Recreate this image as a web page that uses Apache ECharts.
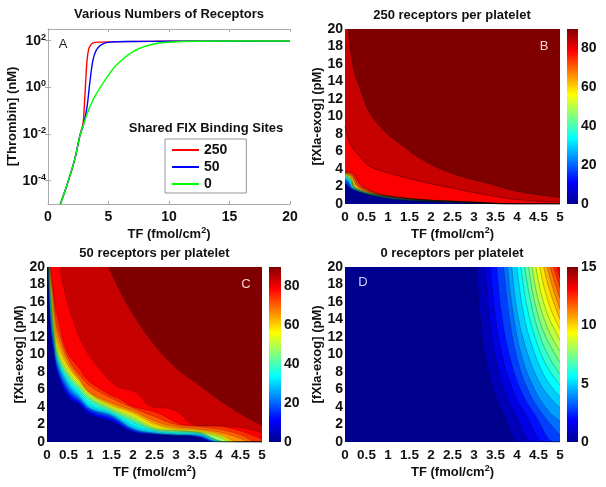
<!DOCTYPE html>
<html>
<head>
<meta charset="utf-8">
<style>html,body{margin:0;padding:0;background:#fff}#chart{width:606px;height:487px}</style>
<script src="https://cdn.jsdelivr.net/npm/echarts@6/dist/echarts.min.js"></script>
</head>
<body>
<div id="chart"></div>
<script>
// panel A: [TF, thrombin nM]
var thrombin250 = [[1.02,1e-5],[1.52,5.5e-5],[2.2,7.8e-4],[2.62,7.9e-3],[2.9,0.029],[3.0,0.15],[3.12,2.0],[3.23,15],[3.35,40],[3.45,55],[3.72,81],[4.28,87],[6,91],[10,94],[20,96]];
var thrombin50 = [[1.02,1e-5],[1.52,5.5e-5],[2.2,7.8e-4],[2.62,7.9e-3],[2.95,0.027],[3.23,0.15],[3.45,1.5],[3.72,15],[4,40],[4.41,68],[5.1,87],[7,92],[10,94],[20,96]];
var thrombin0 = [[1.02,1e-5],[1.52,5.5e-5],[2.2,7.8e-4],[2.62,7.9e-3],[2.95,0.027],[3.3,0.09],[3.86,0.4],[4.83,2.5],[5.66,9],[7.03,34],[8.4,65],[9.8,85],[12.55,95],[20,97]];
var ticksThrombin = [1e-4,1e-2,1,100];

// panels B, C, D: filled contours, value level and its [TF, fXIa] boundary
var levelsB = [4.5,18,27,36,45,54,63,72,76.5,81,85.5];
var contoursB = [
  [[0,2.4],[.1,1.9],[.2,1.62],[.43,1.2],[.74,.85],[1.12,.55],[1.5,.4],[2,.27],[2.5,.17],[3,.09],[3.84,0],[5,0]],
  [[0,2.7],[.07,2.45],[.13,1.95],[.2,1.67],[.43,1.25],[.74,.9],[1.12,.6],[1.5,.44],[2,.3],[2.5,.2],[3,.11],[3.85,0],[5,0]],
  [[0,2.95],[.08,2.7],[.13,2.2],[.18,1.85],[.43,1.3],[.74,.95],[1.12,.65],[1.5,.47],[2,.33],[2.5,.22],[3,.13],[3.86,0],[5,0]],
  [[0,3.1],[.09,2.9],[.15,2.4],[.2,1.9],[.43,1.35],[.74,1],[1.12,.7],[1.5,.5],[2,.36],[2.5,.24],[3,.15],[3.87,0],[5,0]],
  [[0,3.25],[.1,3.05],[.16,2.55],[.21,1.95],[.43,1.42],[.74,1.03],[1.12,.73],[1.5,.53],[2,.38],[2.5,.26],[3,.17],[3.88,0],[5,0]],
  [[0,3.4],[.1,3.2],[.17,2.7],[.22,2],[.43,1.48],[.74,1.07],[1.12,.76],[1.5,.56],[2,.4],[2.5,.28],[3,.18],[3.89,0],[5,0]],
  [[0,3.5],[.12,3.3],[.21,2.7],[.27,2.05],[.45,1.55],[.74,1.12],[1.12,.8],[1.5,.59],[2,.41],[2.5,.3],[3,.2],[3.9,0],[5,0]],
  [[0,3.6],[.15,3.4],[.25,2.7],[.32,2.1],[.5,1.62],[.74,1.17],[1.12,.84],[1.5,.62],[2,.42],[2.5,.31],[3,.21],[3.9,0],[5,0]],
  [[0,3.7],[.15,3.6],[.27,2.9],[.35,2.3],[.5,1.75],[.74,1.25],[.97,.95],[1.35,.7],[2,.45],[2.5,.33],[3,.22],[3.5,.12],[3.9,0],[5,0]],
  [[0,8.9],[.12,6.9],[.35,5.4],[.58,4.3],[1.05,3.5],[1.74,2.6],[2.5,1.8],[3.3,1.03],[4.07,.46],[5,.23]],
  [[.08,20],[.19,15.7],[.39,12.7],[.58,10.4],[.97,8.1],[1.36,6.6],[1.82,5],[2.5,3.5],[3.3,2.4],[4.07,1.4],[5,.76]]
];

var levelsC = [4.5,9,13.5,18,22.5,27,31.5,36,40.5,45,49.5,54,58.5,63,67.5,72,76.5,81,85.5];
var contoursC = [
  [[.02,20],[.07,13],[.15,10],[.25,7.5],[.5,5],[.75,4.2],[1,3.1],[1.5,2.3],[2,1.1],[2.5,.8],[3,.7],[3.5,.5],[3.85,0],[5,0]],
  [[.02,20],[.07,13.5],[.15,10.3],[.25,7.8],[.5,5.3],[.75,4.4],[1,3.3],[1.5,2.5],[2,1.2],[2.5,.85],[3,.72],[3.5,.55],[3.88,0],[5,0]],
  [[.02,20],[.07,14],[.15,10.6],[.25,8.1],[.5,5.6],[.75,4.6],[1,3.5],[1.5,2.7],[2,1.3],[2.5,.9],[3,.74],[3.5,.6],[3.92,0],[5,0]],
  [[.03,20],[.08,14],[.15,11],[.25,8.4],[.5,5.9],[.75,4.8],[1,3.7],[1.5,2.9],[2,1.4],[2.5,.95],[3,.76],[3.5,.65],[3.96,0],[5,0]],
  [[.03,20],[.08,14.5],[.15,11.3],[.25,8.7],[.5,6.2],[.75,5],[1,3.8],[1.5,3],[2,1.5],[2.5,1],[3,.8],[3.5,.72],[4,0],[5,0]],
  [[.03,20],[.08,15],[.15,11.6],[.25,9],[.5,6.5],[.75,5.2],[1,3.9],[1.5,3.1],[2,1.6],[2.5,1.05],[3,.85],[3.5,.8],[4.04,0],[5,0]],
  [[.03,20],[.09,15],[.15,12],[.25,9.3],[.5,6.8],[.75,5.5],[1,4.2],[1.5,3.25],[2,1.9],[2.5,1.2],[3,.95],[3.5,.9],[4.08,0],[5,0]],
  [[.03,20],[.09,15.5],[.15,12.3],[.25,9.5],[.5,7.1],[.75,5.8],[1,4.5],[1.5,3.4],[2,2.2],[2.5,1.3],[3,1.05],[3.5,1],[4.12,0],[5,0]],
  [[.04,20],[.1,15.5],[.15,12.6],[.25,9.7],[.5,7.4],[.75,6],[1,4.8],[1.5,3.55],[2,2.4],[2.5,1.4],[3,1.15],[3.5,1.05],[4.16,0],[5,0]],
  [[.04,20],[.1,16],[.15,13],[.25,10],[.5,7.6],[.75,6.3],[1,5],[1.5,3.7],[2,2.6],[2.5,1.5],[3,1.25],[3.5,1.1],[4.2,0],[5,0]],
  [[.04,20],[.1,16.5],[.15,13.3],[.25,10.3],[.5,7.9],[.75,6.5],[1,5.2],[1.5,3.85],[2,2.8],[2.5,1.6],[3,1.3],[3.5,1.15],[4,.6],[4.26,0],[5,0]],
  [[.05,20],[.1,16.8],[.15,13.6],[.25,10.6],[.5,8.1],[.75,6.7],[1,5.4],[1.5,4],[2,3],[2.5,1.75],[3,1.35],[3.5,1.2],[4,.7],[4.32,0],[5,0]],
  [[.05,20],[.11,17],[.16,13.8],[.25,11],[.5,8.4],[.75,6.9],[1,5.5],[1.5,4.15],[2,3.2],[2.5,1.95],[3,1.45],[3.5,1.3],[4,.8],[4.4,0],[5,0]],
  [[.06,20],[.12,17],[.17,14],[.25,11.5],[.5,8.7],[.75,7.1],[1,5.6],[1.5,4.3],[2,3.4],[2.5,2.15],[3,1.55],[3.5,1.4],[4,.95],[4.5,0],[5,0]],
  [[.06,20],[.12,17.5],[.19,14],[.25,12.3],[.5,9.1],[.75,7.3],[1,5.7],[1.5,4.5],[2,3.6],[2.5,2.4],[3,1.75],[3.5,1.5],[4,1.15],[4.5,.4],[4.7,0],[5,0]],
  [[.07,20],[.13,17.5],[.2,14.2],[.25,12.9],[.5,9.5],[.75,7.7],[1,6.4],[1.5,5],[2,3.9],[2.5,2.9],[3,2],[3.5,1.75],[4,1.45],[4.5,.8],[4.9,0],[5,0]],
  [[.08,20],[.13,18],[.19,15.5],[.25,14.2],[.46,10.4],[.75,8.4],[.92,7.2],[1.39,5.6],[1.7,4.9],[1.97,4.1],[2.55,3.35],[3.02,2.2],[3.25,1.9],[3.87,1.85],[4.5,1.25],[5,.3]],
  [[.29,20],[.38,17.8],[.57,14.4],[.85,11],[1.23,8.3],[1.62,6.4],[2.09,5.6],[2.4,4.1],[2.94,3.7],[3.49,1.9],[4.34,1.75],[5,1.07]],
  [[1.43,20],[2,14.6],[2.79,9.45],[3.56,6.4],[4.34,3.7],[5,1.9]]
];

var levelsD = [.7,1.4,2.1,2.8,3.5,4.2,4.9,5.6,6.3,7,7.7,8.4,9.1,9.8,10.5,11.2,11.9,12.6,13.3];
var contoursD = [
  [[3.06,20],[3.13,15],[3.25,10],[3.45,6],[3.7,3],[4.07,0],[5,0]],
  [[3.26,20],[3.34,15],[3.48,10],[3.7,6],[3.98,3],[4.38,0],[5,0]],
  [[3.38,20],[3.48,15],[3.65,10],[3.9,6],[4.22,3],[4.65,0],[5,0]],
  [[3.53,20],[3.63,15],[3.82,10],[4.08,6],[4.43,3],[4.88,0],[5,0]],
  [[3.69,20],[3.8,15],[3.98,10],[4.25,6],[4.62,3],[5,.8]],
  [[3.78,20],[3.9,15],[4.1,10],[4.38,6.3],[4.72,3.6],[5,2.4]],
  [[3.88,20],[4,15],[4.22,10.5],[4.52,6.8],[4.8,4.9],[5,3.9]],
  [[4,20],[4.14,15],[4.35,11],[4.62,7.7],[4.85,6],[5,5.2]],
  [[4.09,20],[4.23,15.5],[4.45,11.5],[4.7,8.6],[5,6.5]],
  [[4.18,20],[4.32,16],[4.54,12],[4.78,9.4],[5,7.8]],
  [[4.27,20],[4.41,16],[4.62,12.6],[4.82,10.6],[5,9.1]],
  [[4.35,20],[4.48,16.5],[4.68,13.4],[4.85,11.6],[5,10.4]],
  [[4.44,20],[4.56,17],[4.74,14.2],[4.88,12.8],[5,11.6]],
  [[4.53,20],[4.64,17.5],[4.8,15],[5,12.9]],
  [[4.62,20],[4.72,18],[4.85,16],[5,14]],
  [[4.7,20],[4.8,18.2],[4.9,16.6],[5,15.2]],
  [[4.77,20],[4.88,18.2],[5,16.4]],
  [[4.85,20],[4.93,18.8],[5,17.6]],
  [[4.93,20],[5,18.7]]
];

var font = '"Liberation Sans", Arial, sans-serif';
var jetStops = [[0,[0,0,143]],[.125,[0,0,255]],[.375,[0,255,255]],[.625,[255,255,0]],[.875,[255,0,0]],[1,[128,0,0]]];

function jet(t) {
    t = Math.max(0, Math.min(1, t));
    for (var i = 1; i < jetStops.length; i++) {
        if (t <= jetStops[i][0]) {
            var a = jetStops[i-1], b = jetStops[i], k = (t - a[0]) / (b[0] - a[0]);
            return 'rgb(' + [0,1,2].map(function(c){ return Math.round(a[1][c] + (b[1][c] - a[1][c]) * k); }).join(',') + ')';
        }
    }
}

var labelStyle = {color:'#111', fontFamily:font, fontWeight:'bold', fontSize:14, rich:{sup:{fontFamily:font, fontWeight:'bold', fontSize:9, padding:[0,0,7,0], color:'#111'}}};
var nameStyle = {color:'#111', fontFamily:font, fontWeight:'bold', fontSize:13, rich:{sup:{fontFamily:font, fontWeight:'bold', fontSize:9, padding:[0,0,7,0], color:'#111'}}};
var frameLine = {show:true, lineStyle:{color:'#aaa', width:1}};
var frameTick = {inside:true, length:3, lineStyle:{color:'#aaa'}};

var option = {
    animation:false,
    backgroundColor:'#fff',
    title:[], grid:[], xAxis:[], yAxis:[], series:[],
    legend:{
        left:165, top:139, orient:'vertical', itemWidth:27, itemHeight:2, itemGap:3,
        padding:[4,19,2,6], borderColor:'#999', borderWidth:1, backgroundColor:'#fff',
        data:['250','50','0'],
        textStyle:{color:'#111', fontFamily:font, fontWeight:'bold', fontSize:14}
    }
};

function addTitle(text, x, y, size, color, bold) {
    option.title.push({text:text, left:x, top:y, textAlign:'center', padding:0,
        textStyle:{fontFamily:font, fontSize:size, fontWeight:bold ? 'bold' : 'normal', color:color}});
}

function addContourPanel(box, title, levels, contours, cmax, edge, barBox, barMax, barInterval) {
    var grid = option.grid.length, axis = option.xAxis.length;
    option.grid.push({left:box[0], top:box[1], width:box[2], height:box[3], show:true, backgroundColor:jet(0), borderWidth:0});
    option.xAxis.push({gridIndex:grid, type:'value', min:0, max:5, interval:.5,
        name:'TF (fmol/cm{sup|2})', nameLocation:'middle', nameGap:22, nameTextStyle:nameStyle,
        axisLine:{show:false}, axisTick:{show:false}, splitLine:{show:false},
        axisLabel:Object.assign({}, labelStyle, {margin:6, fontSize:13.5, hideOverlap:false, showMinLabel:true, showMaxLabel:true})});
    option.yAxis.push({gridIndex:grid, type:'value', min:0, max:20, interval:2,
        name:'[fXIa-exog] (pM)', nameLocation:'middle', nameGap:20, nameTextStyle:nameStyle,
        axisLine:{show:false}, axisTick:{show:false}, splitLine:{show:false},
        axisLabel:Object.assign({margin:2, hideOverlap:false}, labelStyle)});
    contours.forEach(function(points, i) {
        // band colour: D runs by its lower level, B and C by the upper one
        var t = cmax === 15 ? levels[i] / cmax : (i + 1 < levels.length ? (levels[i+1] - 1.8) / cmax : 1);
        option.series.push({type:'line', xAxisIndex:axis, yAxisIndex:axis, data:points, silent:true,
            showSymbol:false, symbol:'none', smooth:.4, clip:true,
            lineStyle:{width:.6, color:'rgba(0,0,0,' + edge + ')'},
            areaStyle:{origin:'end', opacity:1, color:jet(t)}});
    });
    // colorbar
    option.grid.push({left:barBox[0], top:barBox[1], width:barBox[2], height:barBox[3], show:false});
    option.xAxis.push({gridIndex:grid + 1, type:'category', data:['c'], show:false});
    option.yAxis.push({gridIndex:grid + 1, type:'value', position:'right', min:0, max:barMax, interval:barInterval,
        axisLine:{show:false}, axisTick:{show:false}, splitLine:{show:false},
        axisLabel:Object.assign({margin:3, showMaxLabel:barMax === 15, hideOverlap:false}, labelStyle)});
    option.series.push({type:'bar', xAxisIndex:axis + 1, yAxisIndex:axis + 1, data:[barMax], barWidth:'100%', silent:true,
        itemStyle:{color:{type:'linear', x:0, y:1, x2:0, y2:0, colorStops:jetStops.map(function(s){
            return {offset:s[0], color:'rgb(' + s[1].join(',') + ')'};
        })}}});
    addTitle(title, box[0] + box[2] / 2 + (box[0] > 300 ? -0.5 : 0), box[1] - 20, 13, '#111', true);
}

// panel A
option.grid.push({left:48, top:29, width:242, height:175, show:true, backgroundColor:'#fff', borderWidth:0});
option.xAxis.push({gridIndex:0, type:'value', min:0, max:20, interval:5,
    name:'TF (fmol/cm{sup|2})', nameLocation:'middle', nameGap:22, nameTextStyle:nameStyle,
    axisLine:frameLine, axisTick:frameTick, splitLine:{show:false},
    axisLabel:Object.assign({margin:6}, labelStyle)});
option.xAxis.push({gridIndex:0, type:'value', position:'top', min:0, max:20, interval:5,
    axisLine:frameLine, axisTick:frameTick, axisLabel:{show:false}, splitLine:{show:false}});
option.yAxis.push({gridIndex:0, type:'log', logBase:10, min:1e-5, max:316.2,
    name:'[Thrombin] (nM)', nameLocation:'middle', nameGap:21, nameTextStyle:nameStyle,
    axisLine:frameLine, axisTick:Object.assign({customValues:ticksThrombin}, frameTick), splitLine:{show:false},
    minorTick:{show:false},
    axisLabel:Object.assign({margin:2, customValues:ticksThrombin, formatter:function(v){
        return '10{sup|' + Math.round(Math.log(v) / Math.LN10) + '}';
    }}, labelStyle)});
option.yAxis.push({gridIndex:0, type:'log', logBase:10, position:'right', min:1e-5, max:316.2,
    axisLine:frameLine, axisTick:Object.assign({customValues:ticksThrombin}, frameTick), axisLabel:{show:false}, splitLine:{show:false}});
[['250',thrombin250,'#ff0000'],['50',thrombin50,'#0000ff'],['0',thrombin0,'#00ff00']].forEach(function(s) {
    option.series.push({type:'line', name:s[0], xAxisIndex:0, yAxisIndex:0, data:s[1], showSymbol:false, symbol:'none', silent:true,
        smooth:.35, clip:true, lineStyle:{width:1.4, color:s[2]}, itemStyle:{color:s[2]}});
});
addTitle('Various Numbers of Receptors', 169, 8, 13, '#111', true);
addTitle('Shared FIX Binding Sites', 206, 122, 13, '#111', true);
addTitle('A', 63, 38, 13, '#222', false);

addContourPanel([345,29,215,175], '250 receptors per platelet', levelsB, contoursB, 90, .6, [567,29,11,175], 90, 20);
addTitle('B', 544, 40, 13, '#ffd0d0', false);
addContourPanel([47,267,215,175], '50 receptors per platelet', levelsC, contoursC, 90, .28, [269,267,12,175], 90, 20);
addTitle('C', 246, 278, 13, '#ffd0d0', false);
addContourPanel([345,267,215,175], '0 receptors per platelet', levelsD, contoursD, 15, .42, [567,267,11,175], 15, 5);
addTitle('D', 363, 276, 13, '#d0d0ff', false);

echarts.init(document.getElementById('chart'), null, {renderer:'canvas'}).setOption(option);
</script>
</body>
</html>
